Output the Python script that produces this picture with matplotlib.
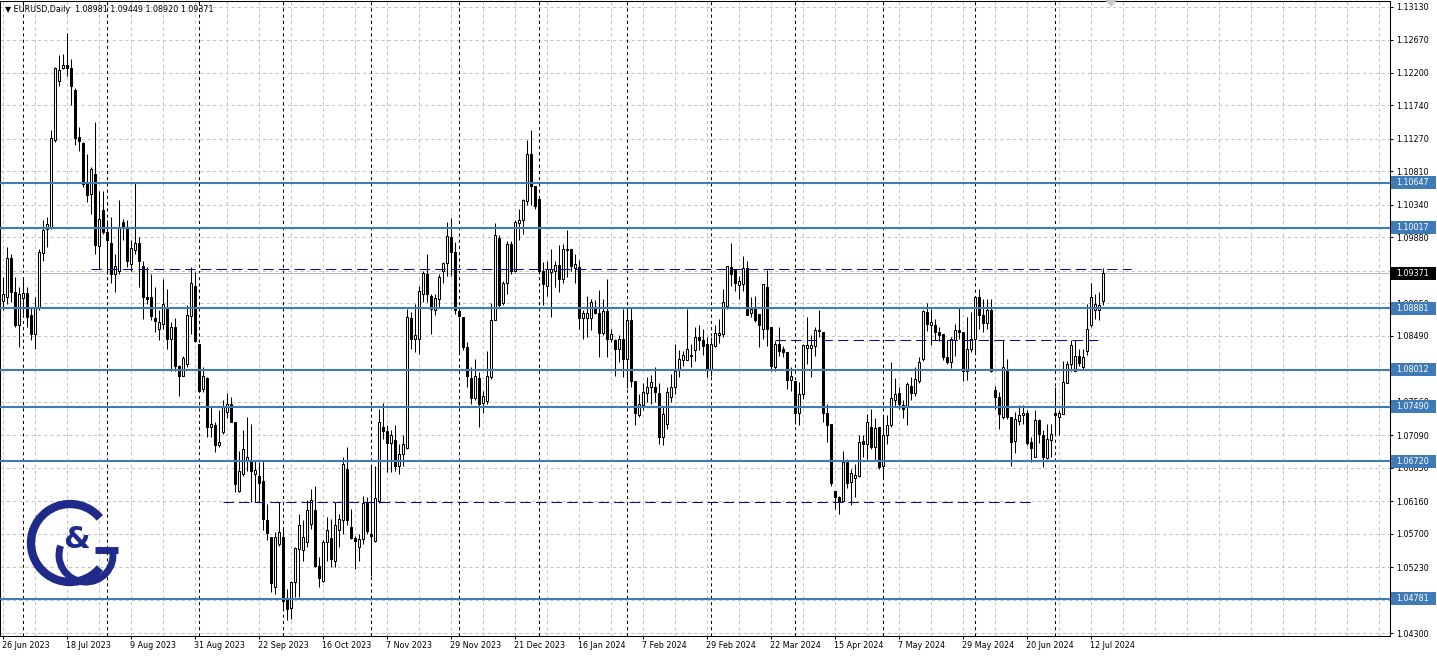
import numpy as np
import pandas as pd
import matplotlib
matplotlib.use("Agg")
import matplotlib.pyplot as plt
from matplotlib.patches import Arc, Polygon, Rectangle
from matplotlib.transforms import blended_transform_factory

# ---------------- data ----------------
start_date = "2023-06-26"
holidays = ["2023-12-25", "2024-01-01"]

opens = [1.0898,1.0904,1.0959,1.0911,1.0864,1.0902,1.0909,1.0878,1.0852,1.0888,
1.0966,1.1000,1.1002,1.1125,1.1209,1.1227,1.1231,1.1227,1.1196,1.1129,
1.1121,1.1064,1.1049,1.1077,1.0976,1.1027,1.0995,1.0980,1.0937,1.0941,
1.1010,1.1002,1.0950,1.0970,1.0980,1.0948,1.0904,1.0904,1.0874,1.0859,
1.0866,1.0890,1.0844,1.0862,1.0807,1.0793,1.0810,1.0877,1.0920,1.0837,
1.0774,1.0789,1.0721,1.0723,1.0695,1.0713,1.0742,1.0753,1.0727,1.0631,
1.0654,1.0673,1.0672,1.0655,1.0652,1.0645,1.0590,1.0566,1.0495,1.0556,
1.0566,1.0477,1.0465,1.0502,1.0548,1.0547,1.0558,1.0584,1.0604,1.0525,
1.0504,1.0558,1.0564,1.0532,1.0575,1.0590,1.0661,1.0579,1.0564,1.0551,
1.0562,1.0613,1.0570,1.0560,1.0616,1.0721,1.0715,1.0698,1.0702,1.0665,
1.0683,1.0691,1.0875,1.0845,1.0845,1.0908,1.0936,1.0906,1.0886,1.0901,
1.0941,1.0952,1.0988,1.0967,1.0884,1.0876,1.0833,1.0789,1.0761,1.0789,
1.0754,1.0757,1.0791,1.0872,1.0987,1.0895,1.0923,1.0979,1.0941,1.1008,
1.1012,1.1039,1.1105,1.1060,1.1042,1.0940,1.0920,1.0939,1.0941,1.0949,
1.0930,1.0970,1.0971,1.0945,1.0946,1.0874,1.0874,1.0875,1.0889,1.0881,
1.0853,1.0884,1.0845,1.0843,1.0831,1.0845,1.0817,1.0871,1.0785,1.0738,
1.0752,1.0769,1.0777,1.0777,1.0768,1.0706,1.0725,1.0763,1.0777,1.0803,
1.0815,1.0815,1.0821,1.0829,1.0848,1.0843,1.0838,1.0803,1.0835,1.0851,
1.0852,1.0891,1.0946,1.0943,1.0921,1.0922,1.0945,1.0881,1.0889,1.0880,
1.0859,1.0918,1.0861,1.0805,1.0838,1.0831,1.0826,1.0787,1.0786,1.0741,
1.0767,1.0832,1.0832,1.0835,1.0856,1.0854,1.0740,1.0725,1.0631,1.0622,
1.0616,1.0671,1.0643,1.0648,1.0652,1.0701,1.0696,1.0720,1.0692,1.0720,
1.0665,1.0709,1.0723,1.0759,1.0768,1.0752,1.0749,1.0778,1.0768,1.0786,
1.0817,1.0883,1.0864,1.0865,1.0854,1.0852,1.0819,1.0812,1.0843,1.0857,
1.0854,1.0800,1.0831,1.0845,1.0904,1.0878,1.0867,1.0885,1.0773,1.0763,
1.0735,1.0800,1.0735,1.0701,1.0729,1.0737,1.0740,1.0699,1.0678,1.0730,
1.0709,1.0677,1.0702,1.0741,1.0735,1.0739,1.0782,1.0809,1.0800,1.0821,
1.0805,1.0828,1.0865,1.0885,1.0885,1.08981]

highs = [1.0932,1.0974,1.0965,1.0932,1.0918,1.0932,1.0918,1.0890,1.0904,1.0972,
1.1012,1.1017,1.1139,1.1228,1.1245,1.1247,1.1276,1.1240,1.1198,1.1143,
1.1123,1.1106,1.1087,1.1150,1.1054,1.1054,1.1012,1.1017,1.0965,1.1041,
1.1014,1.1012,1.0984,1.1065,1.0988,1.0955,1.0946,1.0937,1.0918,1.0885,
1.0930,1.0915,1.0868,1.0875,1.0808,1.0821,1.0892,1.0946,1.0939,1.0837,
1.0805,1.0791,1.0749,1.0728,1.0744,1.0758,1.0768,1.0763,1.0727,1.0687,
1.0716,1.0735,1.0725,1.0673,1.0671,1.0673,1.0612,1.0566,1.0572,1.0615,
1.0578,1.0492,1.0504,1.0552,1.0598,1.0589,1.0617,1.0633,1.0638,1.0537,
1.0561,1.0593,1.0591,1.0615,1.0598,1.0678,1.0692,1.0605,1.0567,1.0570,
1.0623,1.0622,1.0666,1.0666,1.0746,1.0754,1.0723,1.0716,1.0723,1.0697,
1.0709,1.0887,1.0883,1.0894,1.0920,1.0941,1.0965,1.0908,1.0908,1.0936,
1.0953,1.1009,1.1016,1.0981,1.0890,1.0876,1.0840,1.0805,1.0817,1.0798,
1.0772,1.0828,1.0896,1.1008,1.0991,1.0927,1.0983,1.0983,1.1013,1.1028,
1.1042,1.1125,1.1139,1.1061,1.1042,1.0953,1.0955,1.0972,1.0955,1.0977,
1.0979,1.0999,1.0972,1.0965,1.0956,1.0885,1.0906,1.0901,1.0899,1.0914,
1.0901,1.0930,1.0859,1.0845,1.0850,1.0887,1.0887,1.0890,1.0785,1.0767,
1.0782,1.0791,1.0794,1.0805,1.0782,1.0749,1.0777,1.0796,1.0838,1.0829,
1.0828,1.0887,1.0838,1.0861,1.0864,1.0859,1.0848,1.0847,1.0865,1.0873,
1.0915,1.0948,1.0980,1.0944,1.0934,1.0962,1.0954,1.0904,1.0906,1.0880,
1.0922,1.0942,1.0861,1.0842,1.0861,1.0835,1.0826,1.0805,1.0786,1.0784,
1.0838,1.0876,1.0850,1.0861,1.0885,1.0854,1.0753,1.0725,1.0631,1.0624,
1.0687,1.0676,1.0662,1.0669,1.0709,1.0710,1.0739,1.0746,1.0734,1.0720,
1.0737,1.0737,1.0812,1.0789,1.0777,1.0758,1.0784,1.0791,1.0805,1.0819,
1.0886,1.0895,1.0887,1.0873,1.0861,1.0852,1.0843,1.0847,1.0866,1.0890,
1.0854,1.0876,1.0883,1.0906,1.0915,1.0901,1.0901,1.0901,1.0779,1.0770,
1.0843,1.0817,1.0735,1.0742,1.0751,1.0751,1.0744,1.0706,1.0744,1.0732,
1.0716,1.0725,1.0725,1.0777,1.0744,1.0814,1.0814,1.0843,1.0843,1.0831,
1.0831,1.0894,1.0923,1.0908,1.0911,1.09449]

lows = [1.0885,1.0894,1.0897,1.0861,1.0833,1.0880,1.0861,1.0843,1.0831,1.0885,
1.0955,1.0975,1.1000,1.1122,1.1202,1.1226,1.1216,1.1174,1.1118,1.1110,
1.1059,1.1038,1.1021,1.0965,1.0943,1.0993,1.0937,1.0923,1.0911,1.0937,
1.0984,1.0946,1.0941,1.0965,1.0918,1.0873,1.0894,1.0871,1.0854,1.0843,
1.0859,1.0831,1.0800,1.0800,1.0764,1.0792,1.0805,1.0852,1.0840,1.0770,
1.0770,1.0706,1.0706,1.0685,1.0692,1.0711,1.0734,1.0727,1.0629,1.0629,
1.0652,1.0659,1.0615,1.0615,1.0615,1.0575,1.0561,1.0488,1.0485,1.0553,
1.0462,1.0448,1.0450,1.0481,1.0481,1.0532,1.0551,1.0577,1.0523,1.0495,
1.0502,1.0532,1.0523,1.0523,1.0551,1.0570,1.0582,1.0563,1.0521,1.0532,
1.0556,1.0570,1.0511,1.0558,1.0614,1.0704,1.0657,1.0657,1.0659,1.0655,
1.0666,1.0690,1.0831,1.0826,1.0824,1.0897,1.0897,1.0852,1.0878,1.0890,
1.0923,1.0934,1.0934,1.0880,1.0824,1.0829,1.0777,1.0753,1.0758,1.0721,
1.0740,1.0753,1.0788,1.0871,1.0889,1.0892,1.0908,1.0937,1.0939,1.0984,
1.0993,1.1034,1.1033,1.1028,1.0937,1.0892,1.0906,1.0876,1.0918,1.0911,
1.0923,1.0932,1.0941,1.0923,1.0859,1.0844,1.0847,1.0857,1.0880,1.0820,
1.0850,1.0820,1.0840,1.0793,1.0812,1.0791,1.0775,1.0777,1.0723,1.0735,
1.0744,1.0756,1.0753,1.0756,1.0697,1.0695,1.0718,1.0756,1.0767,1.0791,
1.0806,1.0815,1.0805,1.0814,1.0829,1.0822,1.0791,1.0793,1.0833,1.0839,
1.0848,1.0887,1.0920,1.0913,1.0901,1.0913,1.0878,1.0876,1.0868,1.0833,
1.0845,1.0835,1.0800,1.0800,1.0821,1.0819,1.0774,1.0772,1.0725,1.0723,
1.0760,1.0810,1.0791,1.0821,1.0847,1.0727,1.0699,1.0638,1.0605,1.0598,
1.0615,1.0634,1.0610,1.0622,1.0650,1.0678,1.0676,1.0690,1.0673,1.0662,
1.0650,1.0697,1.0720,1.0749,1.0746,1.0734,1.0723,1.0758,1.0765,1.0782,
1.0814,1.0856,1.0836,1.0843,1.0842,1.0815,1.0810,1.0804,1.0821,1.0845,
1.0786,1.0787,1.0826,1.0824,1.0859,1.0854,1.0859,1.0798,1.0746,1.0718,
1.0732,1.0732,1.0666,1.0684,1.0723,1.0725,1.0695,1.0671,1.0678,1.0698,
1.0664,1.0676,1.0678,1.0709,1.0709,1.0739,1.0782,1.0800,1.0800,1.0806,
1.0803,1.0822,1.0861,1.0873,1.0871,1.08920]

closes = [1.0908,1.0959,1.0911,1.0864,1.0908,1.0910,1.0876,1.0852,1.0889,1.0967,
1.0999,1.1007,1.1128,1.1227,1.1224,1.1231,1.1227,1.1202,1.1128,1.1124,
1.1063,1.1048,1.1084,1.0977,1.1014,1.0995,1.0984,1.0937,1.0947,1.1002,
1.1002,1.0955,1.0973,1.0980,1.0955,1.0904,1.0901,1.0877,1.0870,1.0868,
1.0894,1.0844,1.0861,1.0807,1.0792,1.0818,1.0879,1.0923,1.0842,1.0772,
1.0792,1.0720,1.0725,1.0695,1.0699,1.0749,1.0753,1.0728,1.0640,1.0659,
1.0690,1.0679,1.0659,1.0660,1.0641,1.0591,1.0571,1.0500,1.0565,1.0572,
1.0475,1.0464,1.0502,1.0550,1.0583,1.0566,1.0604,1.0618,1.0525,1.0507,
1.0558,1.0576,1.0535,1.0582,1.0591,1.0669,1.0589,1.0564,1.0560,1.0562,
1.0613,1.0574,1.0567,1.0621,1.0727,1.0715,1.0698,1.0709,1.0665,1.0683,
1.0697,1.0876,1.0845,1.0851,1.0912,1.0938,1.0908,1.0887,1.0903,1.0932,
1.0952,1.0990,1.0967,1.0885,1.0877,1.0834,1.0793,1.0761,1.0792,1.0753,
1.0764,1.0792,1.0872,1.0991,1.0893,1.0923,1.0979,1.0941,1.1009,1.1012,
1.1040,1.1105,1.1061,1.1032,1.0940,1.0922,1.0944,1.0944,1.0949,1.0929,
1.0972,1.0971,1.0948,1.0950,1.0875,1.0881,1.0881,1.0897,1.0881,1.0853,
1.0884,1.0845,1.0852,1.0831,1.0845,1.0817,1.0871,1.0786,1.0741,1.0753,
1.0770,1.0777,1.0784,1.0770,1.0706,1.0739,1.0770,1.0777,1.0800,1.0817,
1.0822,1.0831,1.0822,1.0847,1.0843,1.0835,1.0803,1.0838,1.0853,1.0853,
1.0897,1.0947,1.0937,1.0923,1.0926,1.0945,1.0879,1.0887,1.0871,1.0864,
1.0922,1.0859,1.0806,1.0837,1.0828,1.0826,1.0787,1.0792,1.0741,1.0767,
1.0836,1.0836,1.0836,1.0858,1.0858,1.0740,1.0724,1.0641,1.0622,1.0615,
1.0671,1.0641,1.0656,1.0653,1.0699,1.0696,1.0727,1.0692,1.0719,1.0664,
1.0709,1.0724,1.0761,1.0767,1.0753,1.0746,1.0781,1.0768,1.0788,1.0812,
1.0884,1.0866,1.0868,1.0854,1.0851,1.0819,1.0812,1.0845,1.0857,1.0854,
1.0799,1.0830,1.0845,1.0904,1.0878,1.0867,1.0885,1.0800,1.0763,1.0739,
1.0805,1.0735,1.0699,1.0732,1.0738,1.0740,1.0698,1.0691,1.0730,1.0711,
1.0678,1.0703,1.0711,1.0737,1.0741,1.0784,1.0809,1.0836,1.0821,1.0811,
1.0819,1.0859,1.0904,1.0894,1.0892,1.09371]

symbol_title = "EURUSD,Daily"
title_ohlc = ["1.08981", "1.09449", "1.08920", "1.09371"]

level_prices = [1.10647, 1.10017, 1.08881, 1.08012, 1.07490, 1.06720, 1.04781]
bid_price = 1.09371
# dashed trend objects: (start date, end date, price)
dashed_lines = [("2023-07-26", "2024-07-26", 1.0943),
                ("2024-03-25", "2024-07-17", 1.0843),
                ("2023-09-11", "2024-06-24", 1.0615)]
price_ticks = [1.13130, 1.12670, 1.12200, 1.11740, 1.11270, 1.10810, 1.10340,
               1.09880, 1.09410, 1.08950, 1.08490, 1.08020, 1.07560, 1.07090,
               1.06630, 1.06160, 1.05700, 1.05230, 1.04770, 1.04300]
# tick labels that are completely covered by the price boxes in the terminal
covered_ticks = [1.09410, 1.08020, 1.04770]

# ---------------- calendar ----------------
cal = pd.bdate_range(start_date, "2024-12-31")
cal = cal[~cal.isin(pd.to_datetime(holidays))]
n = len(closes)
dates = cal[:n]
def idx(d):
    return int(np.searchsorted(cal, pd.Timestamp(d)))

o = np.array(opens); h = np.array(highs); l = np.array(lows); c = np.array(closes)
x = np.arange(n)

# ---------------- figure ----------------
W, H = 1437, 657
fig = plt.figure(figsize=(W / 100, H / 100), dpi=100)
fig.patch.set_facecolor("white")
ax_l, ax_r, ax_t, ax_b = 0, 1390, 1, 636
ax = fig.add_axes([ax_l / W, 1 - ax_b / H, (ax_r - ax_l) / W, (ax_b - ax_t) / H])
px_per_bar = 4.0
x0 = (ax_l - 3) / px_per_bar
x1 = (ax_r - 3) / px_per_bar
ax.set_xlim(x0, x1)
y_lo, y_hi = 1.04259, 1.13213
ax.set_ylim(y_lo, y_hi)

def ypix(p):
    return ax_t + (y_hi - p) / (y_hi - y_lo) * (ax_b - ax_t)

FS = 5.8
LW = 0.75
GRID = "#c4c4c4"

# grid
for yv in price_ticks:
    ax.axhline(yv, color=GRID, lw=LW, dashes=(3, 3), zorder=1)
for gx in range(0, int(x1) + 1, 8):
    ax.axvline(gx, color=GRID, lw=LW, dashes=(3, 3), zorder=1)

# month separators
month_first = [i for i in range(1, n) if dates[i].month != dates[i - 1].month]
for i in month_first:
    ax.axvline(i, color="black", lw=LW, dashes=(3, 3), zorder=1.5)

# bid line
ax.axhline(bid_price, color="#b8b8b8", lw=LW, zorder=1.6)

# candles
up = c >= o
ax.vlines(x, l, h, color="black", lw=LW, zorder=3)
bb = np.minimum(o, c)
bh = np.maximum(np.abs(c - o), 0.00004)
ax.bar(x[up], bh[up], bottom=bb[up], width=0.5, color="white", edgecolor="black",
       linewidth=LW, zorder=4)
ax.bar(x[~up], bh[~up], bottom=bb[~up], width=0.5, color="black", edgecolor="black",
       linewidth=LW, zorder=4)

# horizontal levels
BLUE = "#3f7bb6"
for p in level_prices:
    ax.axhline(p, color=BLUE, lw=1.5, zorder=5)

# dashed trend objects
for d0, d1, p in dashed_lines:
    ax.plot([idx(d0), idx(d1)], [p, p], color="#0a0a8c", lw=LW, dashes=(10, 5), zorder=5)

# axes styling
for s in ax.spines.values():
    s.set_color("black"); s.set_linewidth(LW)
ax.yaxis.tick_right()
ax.set_yticks(price_ticks)
ax.set_yticklabels(["" if any(abs(v - cv) < 1e-9 for cv in covered_ticks) else f"{v:.5f}"
                    for v in price_ticks], fontsize=FS)
ax.tick_params(axis="y", length=2.2, width=LW, pad=2.5, colors="black")
xt = list(range(0, n, 16))
ax.set_xticks(xt)
ax.set_xticklabels([])
ax.tick_params(axis="x", length=2.2, width=LW, colors="black")
tb = blended_transform_factory(ax.transData, ax.transAxes)
for i in xt:
    d = dates[i]
    ax.text(i - 0.3, -9 / 635, f"{d.day} {d.strftime('%b %Y')}", transform=tb,
            ha="left", va="center", fontsize=FS, clip_on=False)

# title
fig.text(5 / W, 1 - 9 / H, "\u25BC " + symbol_title + "  " + " ".join(title_ohlc),
         fontsize=FS, va="center", ha="left")

# overlay in pixel coords for price boxes / logo / marker
ov = fig.add_axes([0, 0, 1, 1], zorder=10)
ov.set_xlim(0, W); ov.set_ylim(H, 0); ov.axis("off"); ov.patch.set_alpha(0)

def price_box(p, fc):
    yc = ypix(p)
    ov.add_patch(Rectangle((1391, yc - 6.5), 45, 13, fc=fc, ec="none"))
    ov.text(1396, yc, f"{p:.5f}", color="white", fontsize=FS, ha="left", va="center")

for p in level_prices:
    price_box(p, BLUE)
price_box(bid_price, "black")

NAVY = "#1f2a8a"
ov.add_patch(Arc((70, 543), 78, 78, theta1=40, theta2=320, lw=6, color=NAVY))
ov.add_patch(Arc((86, 555), 54, 54, theta1=-10, theta2=200, lw=5, color=NAVY))
ov.plot([95, 118], [550, 550], color=NAVY, lw=5, solid_capstyle="butt")
ov.text(76, 540, "&", fontsize=22, color=NAVY, ha="center", va="center",
        fontweight="bold")
ov.add_patch(Polygon([[1106, 0], [1116, 0], [1111, 6]], closed=True, color="#c8c8c8"))

fig.savefig("out.png", dpi=100)
